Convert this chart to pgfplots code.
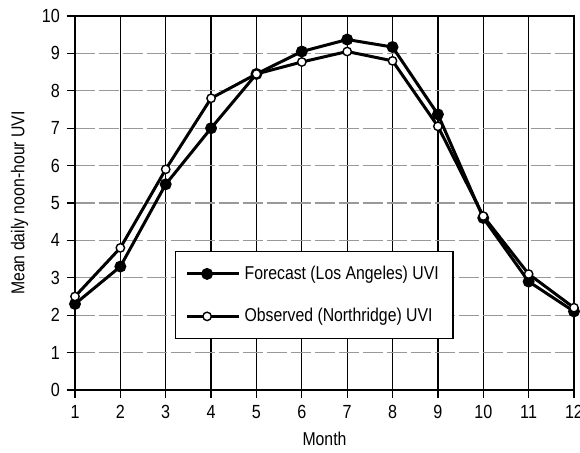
\documentclass[border=0pt]{standalone}
\usepackage{fontspec}
\setmainfont{Liberation Sans}[FakeStretch=0.85]
\usepackage{pgfplots}
\pgfplotsset{compat=1.18}
\begin{document}
\begin{tikzpicture}
\begin{axis}[
  scale only axis, width=249.5pt, height=187pt,
  xmin=1, xmax=12, ymin=0, ymax=10,
  xtick={1,...,12}, ytick={0,...,10},
  tick align=outside, tick pos=left, major tick length=4pt,
  /pgf/number format/assume math mode=true,
  ticklabel style={font=\fontsize{9.5}{11}\selectfont},
  label style={font=\fontsize{9.3}{11}\selectfont},
  xlabel={Month}, ylabel={Mean daily noon-hour UVI},
  axis line style={line width=0.9pt},
  major tick style={black, line width=0.6pt},
  xmajorgrids, ymajorgrids,
  x grid style={black, line width=0.6pt},
  y grid style={gray!80, line width=0.6pt, dash pattern=on 10pt off 2pt},
  legend style={at={(0.2,0.372)}, anchor=north west, draw=black, line width=0.8pt,
    font=\fontsize{9.3}{11}\selectfont, row sep=9pt, inner xsep=5pt, inner ysep=5pt},
  legend cell align=left,
  legend image code/.code={\path (0pt,0pt) -- (26pt,0pt);\draw[mark repeat=2,mark phase=2,#1] plot coordinates {(0pt,0pt)(10pt,0pt)(20pt,0pt)};},
]
\addplot[black, line width=1.5pt, mark=*, mark size=2.2pt, mark options={solid, fill=black}]
  coordinates {(1,2.3)(2,3.3)(3,5.5)(4,7.0)(5,8.45)(6,9.05)(7,9.37)(8,9.17)(9,7.37)(10,4.6)(11,2.9)(12,2.1)};
\addlegendentry{Forecast (Los Angeles) UVI}
\addplot[black, line width=1.5pt, mark=*, mark size=2.1pt, mark options={solid, fill=white, line width=0.7pt}]
  coordinates {(1,2.5)(2,3.8)(3,5.9)(4,7.8)(5,8.45)(6,8.77)(7,9.05)(8,8.8)(9,7.05)(10,4.65)(11,3.1)(12,2.2)};
\addlegendentry{Observed (Northridge) UVI}
\end{axis}
\path (current axis.south west) ++(-37.5pt,-31.5pt) coordinate (bbA);
\path (current axis.north east) ++(3pt,8pt) coordinate (bbB);
\pgfresetboundingbox
\path[use as bounding box] (bbA) rectangle (bbB);
\end{tikzpicture}
\end{document}
